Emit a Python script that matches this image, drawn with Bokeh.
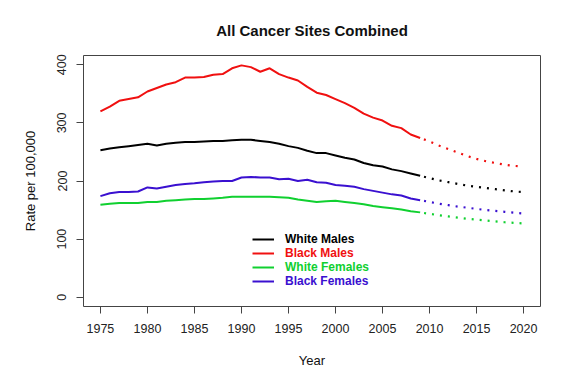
from bokeh.plotting import figure
from bokeh.models import Range1d, FixedTicker, Legend, LegendItem
from bokeh.embed import file_html
from bokeh.resources import INLINE

years = list(range(1975, 2010))
proj_years = list(range(2009, 2021))

white_males = [253, 256, 258, 260, 262, 264, 261, 264, 266, 267, 267, 268, 269, 269, 270,
               271, 271, 269, 267, 264, 260, 257, 252, 248, 248, 244, 240, 237, 231, 227,
               225, 220, 217, 213, 209]
black_males = [320, 328, 338, 341, 344, 354, 360, 366, 370, 378, 378, 379, 383, 384, 394,
               399, 396, 388, 394, 384, 378, 373, 362, 352, 348, 341, 334, 326, 316, 309,
               304, 295, 291, 280, 274]
white_females = [159, 161, 162, 162, 162, 164, 164, 166, 167, 168, 169, 169, 170, 171, 173,
                 173, 173, 173, 173, 172, 171, 168, 166, 164, 165, 166, 164, 162, 160, 157,
                 155, 153, 151, 148, 146]
black_females = [174, 179, 181, 181, 182, 189, 187, 190, 193, 195, 196, 198, 199, 200, 200,
                 206, 207, 206, 206, 203, 204, 200, 202, 198, 197, 193, 192, 190, 186, 183,
                 180, 177, 175, 170, 167]

white_males_proj = [209, 205, 201, 198, 195, 192, 190, 188, 186, 184, 182, 181]
black_males_proj = [274, 268, 261, 255, 249, 243, 238, 234, 231, 228, 226, 225]
white_females_proj = [146, 143.5, 141, 139, 137, 135, 133.5, 132, 130.5, 129, 128, 127]
black_females_proj = [167, 164, 161, 158.5, 156, 154, 152, 150, 148.5, 147, 145.5, 144]

series_names = ["White Males", "Black Males", "White Females", "Black Females"]
colors = ["#000000", "#f01010", "#10d030", "#3a10d0"]
x_ticks = list(range(1975, 2021, 5))
y_ticks = [0, 100, 200, 300, 400]

FONT = "Liberation Sans"

p = figure(width=557, height=370, output_backend="svg", toolbar_location=None,
           x_range=Range1d(1973.2, 2021.8), y_range=Range1d(-16, 416),
           min_border_left=83, min_border_right=17, min_border_top=55, min_border_bottom=63,
           title="All Cancer Sites Combined")

p.title.align = "center"
p.title.text_font = FONT
p.title.text_font_size = "15px"
p.title.text_font_style = "bold"
p.title.text_color = "#111111"
p.title.standoff = 34

p.xgrid.visible = False
p.ygrid.visible = False
p.outline_line_color = "#444444"
p.outline_line_width = 1

p.xaxis.ticker = FixedTicker(ticks=x_ticks)
p.yaxis.ticker = FixedTicker(ticks=y_ticks)
for ax in (p.xaxis, p.yaxis):
    ax.axis_line_color = None
    ax.major_tick_line_color = "#444444"
    ax.major_tick_out = 7
    ax.major_tick_in = 0
    ax.minor_tick_line_color = None
    ax.major_label_text_font = FONT
    ax.major_label_text_font_size = "12.5px"
    ax.major_label_text_color = "#222222"
    ax.major_label_standoff = 10
    ax.axis_label_text_font = FONT
    ax.axis_label_text_font_size = "13px"
    ax.axis_label_text_font_style = "normal"
    ax.axis_label_text_color = "#111111"
    ax.axis_label_standoff = 17
p.xaxis.axis_label = "Year"
p.yaxis.axis_label = "Rate per 100,000"
p.yaxis.major_label_orientation = "vertical"

observed = [white_males, black_males, white_females, black_females]
projected = [white_males_proj, black_males_proj, white_females_proj, black_females_proj]

renderers = []
for name, obs, proj, c in zip(series_names, observed, projected, colors):
    r = p.line(years, obs, line_color=c, line_width=2)
    p.line(proj_years, proj, line_color=c, line_width=2.2, line_dash="2 6", line_dash_offset=4)
    renderers.append(r)

# one legend per entry so that each label keeps its series colour
for i, (name, r, c) in enumerate(zip(series_names, renderers, colors)):
    leg = Legend(items=[LegendItem(label=name, renderers=[r])],
                 location=(169, 60 - 14 * i),
                 border_line_color=None, background_fill_alpha=0,
                 padding=0, margin=0, spacing=0,
                 glyph_width=22, glyph_height=14, label_height=14,
                 label_standoff=11,
                 label_text_font=FONT, label_text_font_size="12px",
                 label_text_font_style="bold", label_text_color=c)
    p.add_layout(leg, "center")

open("out.html", "w").write(file_html(p, INLINE))
